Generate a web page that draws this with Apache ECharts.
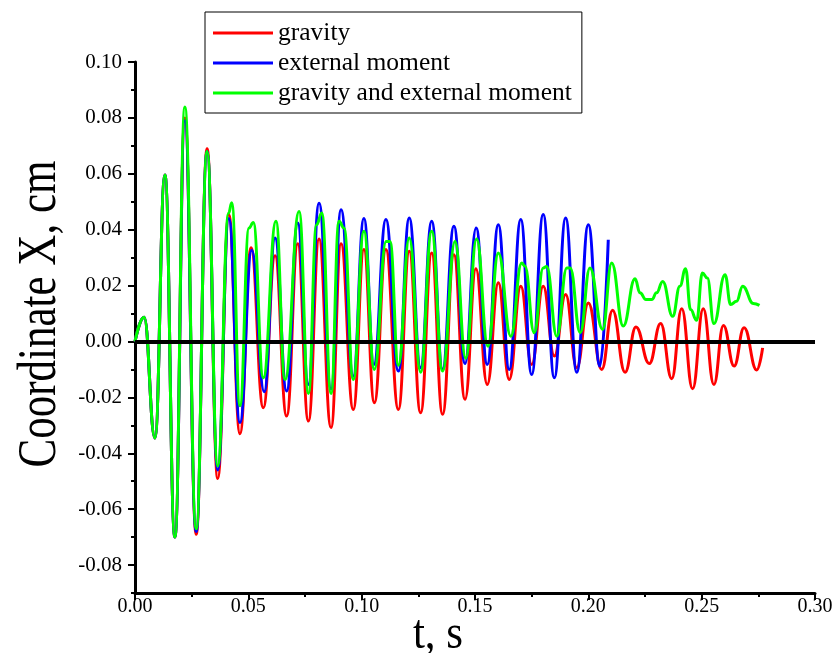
<!DOCTYPE html>
<html>
<head>
<meta charset="utf-8">
<script src="https://cdn.jsdelivr.net/npm/echarts@6/dist/echarts.min.js"></script>
<style>html,body{margin:0;padding:0;background:#fff}#c{width:835px;height:653px}</style>
</head>
<body>
<div id="c"></div>
<script>
// ---- data ----
const gravityT = [0,0.004,0.0088,0.0132,0.0176,0.022,0.027,0.0318,0.0365,0.0414,0.0463,0.0512,0.0566,0.0618,0.0669,0.0718,0.0765,0.0812,0.0865,0.0909,0.0963,0.101,0.1056,0.1107,0.1162,0.121,0.126,0.1309,0.1357,0.1407,0.1456,0.1504,0.1554,0.1603,0.1651,0.1702,0.175,0.1801,0.185,0.19,0.1949,0.20,0.2059,0.2107,0.2162,0.221,0.2269,0.2319,0.2368,0.2412,0.246,0.2507,0.2554,0.2596,0.2643,0.2687,0.2743,0.2769];
const gravityV = [0,0.0087,-0.0345,0.0596,-0.070,0.080,-0.069,0.069,-0.049,0.0454,-0.033,0.0335,-0.0237,0.0307,-0.0267,0.035,-0.0285,0.0367,-0.0308,0.035,-0.0243,0.0329,-0.0219,0.0329,-0.0243,0.0323,-0.0255,0.0317,-0.026,0.031,-0.0207,0.026,-0.0154,0.021,-0.0136,0.0198,-0.0082,0.0198,-0.0052,0.0168,-0.0094,0.0138,-0.010,0.0112,-0.011,0.0052,-0.0079,0.0064,-0.0133,0.0117,-0.0169,0.0117,-0.0154,0.0057,-0.0088,0.0049,-0.0102,-0.0023];

const momentT = [0,0.004,0.0088,0.0132,0.0176,0.022,0.027,0.0318,0.0365,0.0414,0.0463,0.0515,0.057,0.0618,0.0669,0.0718,0.0765,0.0812,0.0865,0.0909,0.0963,0.101,0.1054,0.1107,0.1162,0.121,0.126,0.1309,0.1357,0.1407,0.1456,0.1505,0.1554,0.1603,0.1651,0.1702,0.175,0.1801,0.185,0.19,0.1949,0.20,0.2051,0.2088];
const momentV = [0,0.0087,-0.0345,0.0596,-0.070,0.079,-0.068,0.068,-0.046,0.044,-0.029,0.0326,-0.018,0.037,-0.0177,0.0424,-0.0154,0.0495,-0.017,0.0471,-0.0124,0.044,-0.0082,0.0436,-0.0106,0.0442,-0.0094,0.043,-0.010,0.0412,-0.0079,0.0406,-0.0082,0.0418,-0.010,0.0436,-0.0118,0.0454,-0.013,0.0442,-0.011,0.0418,-0.0088,0.0364];

const bothT = [0,0.004,0.0088,0.0132,0.0176,0.022,0.027,0.0318,0.0365,0.0413,0.0427,0.0463,0.0503,0.0522,0.0566,0.0622,0.0662,0.0724,0.0765,0.0801,0.0824,0.0865,0.09,0.0922,0.0963,0.101,0.1056,0.1108,0.1125,0.1162,0.121,0.126,0.1309,0.1357,0.1412,0.1459,0.1507,0.1557,0.1603,0.1658,0.1706,0.172,0.1761,0.1801,0.1816,0.1861,0.1905,0.192,0.1964,0.2007,0.2063,0.2103,0.2154,0.2206,0.2228,0.2254,0.228,0.2301,0.2328,0.2372,0.2404,0.2429,0.2451,0.2478,0.2503,0.2525,0.2554,0.2603,0.2628,0.2654,0.2681,0.2728,0.2755];
const bothV = [0,0.0087,-0.0345,0.0596,-0.070,0.0839,-0.067,0.068,-0.0446,0.046,0.0496,-0.023,0.0406,0.0426,-0.013,0.043,-0.0136,0.0465,-0.0186,0.0418,0.046,-0.0186,0.043,0.0406,-0.0136,0.0394,-0.010,0.0358,0.0358,-0.0085,0.037,-0.011,0.0394,-0.0106,0.0358,-0.006,0.0367,-0.0017,0.0317,0.0019,0.0281,0.027,0.0031,0.0263,0.0268,0.0019,0.0263,0.0263,0.0031,0.0263,0.0043,0.0281,0.0055,0.0224,0.0174,0.015,0.015,0.0174,0.0215,0.009,0.0198,0.026,0.0114,0.0076,0.0245,0.0227,0.0064,0.0239,0.0132,0.0144,0.0198,0.0136,0.0129];

const seriesNames = ['gravity','external moment','gravity and external moment'];
const seriesColors = ['#ff0000','#0000ff','#00ff00'];
const yMajorTicks = [-0.08,-0.06,-0.04,-0.02,0.00,0.02,0.04,0.06,0.08,0.10];
const yMinorTicks = [-0.09,-0.07,-0.05,-0.03,-0.01,0.01,0.03,0.05,0.07,0.09];
const xTitle = 't, s';
const yTitle = 'Coordinate X, cm';

const zip = (t, v) => t.map((x, i) => [x, v[i]]);
const FONT = 'Liberation Serif';

const chart = echarts.init(document.getElementById('c'), null, {renderer: 'canvas'});
const mkSeries = (i, t, v) => ({
  name: seriesNames[i], type: 'line', data: zip(t, v),
  showSymbol: false, symbol: 'none', smooth: 0.45, smoothMonotone: 'x',
  lineStyle: {color: seriesColors[i], width: 3}, itemStyle: {color: seriesColors[i]},
  z: 2 + i, animation: false
});
const s3 = mkSeries(2, bothT, bothV);
s3.markLine = {silent: true, symbol: 'none', label: {show: false},
  lineStyle: {color: '#000', width: 4, type: 'solid'}, data: [{yAxis: 0}], animation: false};

chart.setOption({
  animation: false,
  backgroundColor: '#fff',
  grid: {left: 135, right: 20, top: 62, bottom: 60, outerBoundsMode: 'none', containLabel: false},
  legend: {
    orient: 'vertical', left: 205, top: 12,
    padding: [6, 10, 5, 8], itemGap: 0,
    borderColor: '#000', borderWidth: 1,
    icon: 'rect', itemWidth: 60, itemHeight: 3,
    textStyle: {fontFamily: FONT, fontSize: 25.5, color: '#000', lineHeight: 30},
    data: seriesNames
  },
  graphic: [{
    type: 'text', x: 40, y: 314, rotation: Math.PI / 2, scaleX: 1, scaleY: 1.3,
    style: {text: yTitle, fill: '#000', font: '43px "Liberation Serif"', align: 'center', verticalAlign: 'middle'}
  }, {
    type: 'text', x: 438, y: 635, scaleX: 1, scaleY: 1.15,
    style: {text: xTitle, fill: '#000', font: '43px "Liberation Serif"', align: 'center', verticalAlign: 'middle'}
  }],
  xAxis: {
    type: 'value', min: 0, max: 0.3, interval: 0.05,
    axisLine: {show: true, onZero: false, lineStyle: {color: '#000', width: 3}},
    axisTick: {show: true, length: 7, lineStyle: {color: '#000', width: 2}},
    minorTick: {show: true, splitNumber: 2, length: 4, lineStyle: {color: '#000', width: 2}},
    splitLine: {show: false}, minorSplitLine: {show: false},
    axisLabel: {fontFamily: FONT, fontSize: 20, color: '#000', margin: 4,
      formatter: v => v.toFixed(2)}
  },
  yAxis: [{
    type: 'value', min: -0.09, max: 0.10, interval: 0.01,
    axisLine: {show: true, onZero: false, lineStyle: {color: '#000', width: 3}},
    axisTick: {show: true, length: 7, customValues: yMajorTicks, lineStyle: {color: '#000', width: 2}},
    splitLine: {show: false},
    axisLabel: {fontFamily: FONT, fontSize: 21, color: '#000', margin: 13,
      customValues: yMajorTicks, formatter: v => v.toFixed(2)}
  }, {
    type: 'value', min: -0.09, max: 0.10, interval: 0.01, position: 'left', offset: 0,
    axisLine: {show: false},
    axisTick: {show: true, length: 4, customValues: yMinorTicks, lineStyle: {color: '#000', width: 2}},
    axisLabel: {show: false}, splitLine: {show: false}
  }],
  series: [mkSeries(0, gravityT, gravityV), mkSeries(1, momentT, momentV), s3]
});
</script>
</body>
</html>
